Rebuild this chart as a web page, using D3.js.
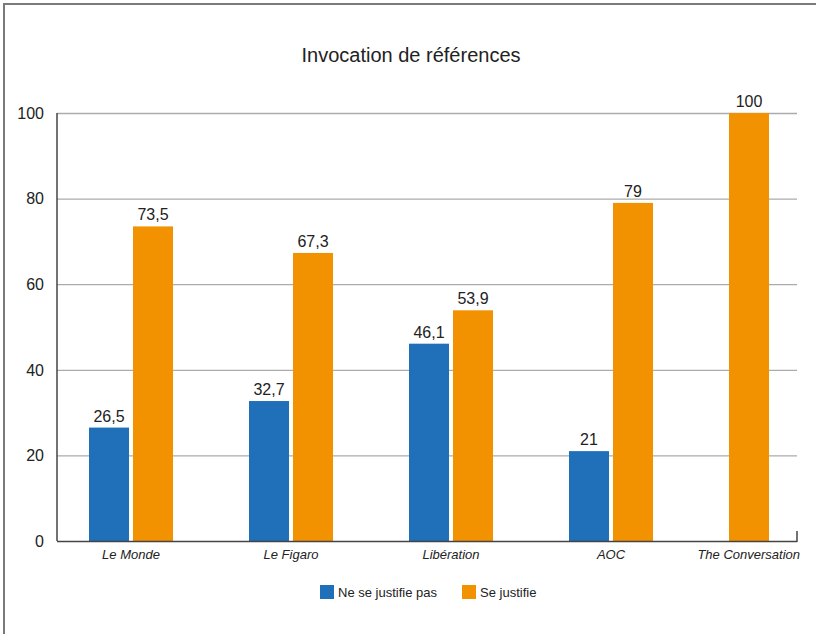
<!DOCTYPE html>
<html><head><meta charset="utf-8">
<script src="https://cdn.jsdelivr.net/npm/d3@7"></script>
<style>body{margin:0;background:#fff}svg{display:block;font-family:"Liberation Sans",Arial,sans-serif}</style>
</head><body><svg id="c" width="816" height="634"></svg>
<script>
const categories = ["Le Monde","Le Figaro","Libération","AOC","The Conversation"];
const seriesNames = ["Ne se justifie pas","Se justifie"];
const neSeJustifiePas = [26.5, 32.7, 46.1, 21, null];
const seJustifie = [73.5, 67.3, 53.9, 79, 100];
const yTicks = [0,20,40,60,80,100];
const colors = ["#1f6fb9","#f39200"];
const values = [neSeJustifiePas, seJustifie];

(function(){
const svg = d3.select("#c");
svg.append("rect").attr("x",4).attr("y",4).attr("width",830).attr("height",650)
  .attr("fill","none").attr("stroke","#7a7a7a").attr("stroke-width",2);

const pLeft=57, pRight=797, pTop=113, pBottom=541;
const y = d3.scaleLinear().domain([0,100]).range([pBottom, pTop]);
const x = d3.scaleBand().domain(categories).range([51, 851]);
const barW = 40, gap = 4, inset = 38;

svg.append("text").attr("x",411).attr("y",62).attr("text-anchor","middle")
  .attr("font-size",20).attr("fill","#222").text("Invocation de références");

// gridlines
svg.append("g").selectAll("line").data(yTicks.filter(d=>d>0)).join("line")
  .attr("x1",pLeft).attr("x2",pRight).attr("y1",d=>y(d)+0.5).attr("y2",d=>y(d)+0.5)
  .attr("stroke","#ababab").attr("stroke-width",1.3);
// y labels
svg.append("g").selectAll("text").data(yTicks).join("text")
  .attr("x",44).attr("y",d=>y(d)).attr("dy","0.36em").attr("text-anchor","end")
  .attr("font-size",16).attr("fill","#222").text(d=>d);

// bars
categories.forEach((c,ci)=>{
  const present = values.map((v,si)=>({si, v:v[ci]})).filter(d=>d.v!=null);
  present.forEach((d,k)=>{
    const bx = x(c)+inset+k*(barW+gap);
    svg.append("rect").attr("x",bx).attr("y",y(d.v)).attr("width",barW)
      .attr("height",y(0)-y(d.v)).attr("fill",colors[d.si]);
    svg.append("text").attr("x",bx+barW/2).attr("y",y(d.v)-6).attr("text-anchor","middle")
      .attr("font-size",16).attr("fill","#222").text(String(d.v).replace(".",","));
  });
});

// axes
svg.append("line").attr("x1",pLeft).attr("x2",pLeft).attr("y1",pTop).attr("y2",pBottom)
  .attr("stroke","#444").attr("stroke-width",1.5);
svg.append("line").attr("x1",pLeft).attr("x2",pRight).attr("y1",pBottom+0.5).attr("y2",pBottom+0.5)
  .attr("stroke","#444").attr("stroke-width",1.5);
svg.append("line").attr("x1",pRight).attr("x2",pRight).attr("y1",pBottom-10).attr("y2",pBottom+1)
  .attr("stroke","#444").attr("stroke-width",1.5);

// category labels
svg.append("g").selectAll("text").data(categories).join("text")
  .attr("y",559).attr("text-anchor","middle").attr("font-size",13).attr("font-style","italic")
  .attr("fill","#222").text(d=>d)
  .each(function(d){
    const w = this.getComputedTextLength();
    let cx = x(d)+x.bandwidth()/2;
    if (cx + w/2 > 800) cx = 800 - w/2;
    d3.select(this).attr("x",cx);
  });

// legend
const leg = [{x:320,tx:338},{x:462,tx:480}];
seriesNames.forEach((s,i)=>{
  svg.append("rect").attr("x",leg[i].x).attr("y",585).attr("width",14).attr("height",14).attr("fill",colors[i]);
  svg.append("text").attr("x",leg[i].tx).attr("y",592).attr("dy","0.36em").attr("font-size",13)
    .attr("fill","#222").text(s);
});
})();
</script></body></html>
